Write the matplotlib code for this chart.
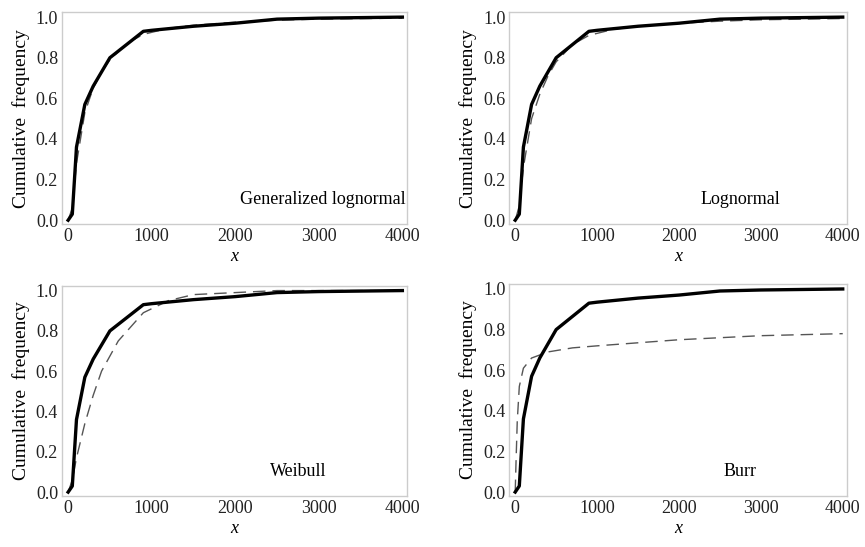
import numpy as np
import matplotlib.pyplot as plt

plt.rcParams['font.family'] = 'Liberation Serif'

# Frequência acumulada observada (mesma para todos os painéis)
x_obs = [0, 50, 100, 200, 300, 500, 900, 1000, 1500, 2000, 2500, 3000, 4000]
F_obs = [0, 0.03, 0.36, 0.57, 0.66, 0.80, 0.93, 0.935, 0.955, 0.97, 0.99, 0.995, 1.0]

# Curvas ajustadas
x_gln = [0, 50, 100, 200, 300, 400, 500, 700, 900, 1200, 1500, 2000, 2500, 3000, 4000]
F_gln = [0, 0.06, 0.28, 0.53, 0.65, 0.73, 0.79, 0.87, 0.915, 0.945, 0.96, 0.975, 0.985, 0.99, 0.995]

x_ln = [0, 50, 100, 200, 300, 400, 500, 700, 900, 1200, 1500, 2000, 2500, 3000, 4000]
F_ln = [0, 0.07, 0.26, 0.50, 0.62, 0.71, 0.78, 0.865, 0.91, 0.94, 0.955, 0.97, 0.98, 0.987, 0.993]

x_wb = [0, 50, 100, 200, 300, 400, 600, 900, 1200, 1500, 2000, 2500, 4000]
F_wb = [0, 0.06, 0.17, 0.34, 0.48, 0.60, 0.75, 0.89, 0.95, 0.98, 0.99, 1.0, 1.0]

x_burr = [0, 10, 25, 50, 100, 200, 400, 700, 1000, 1500, 2000, 2500, 3000, 3500, 4000]
F_burr = [0, 0.15, 0.35, 0.52, 0.61, 0.66, 0.69, 0.71, 0.72, 0.735, 0.75, 0.76, 0.77, 0.775, 0.78]

paineis = [
    ('Generalized lognormal', x_gln, F_gln, [0.072, 0.590, 0.398, 0.388]),
    ('Lognormal', x_ln, F_ln, [0.589, 0.590, 0.390, 0.388]),
    ('Weibull', x_wb, F_wb, [0.072, 0.093, 0.398, 0.385]),
    ('Burr', x_burr, F_burr, [0.589, 0.093, 0.390, 0.388]),
]

fig = plt.figure(figsize=(8.65, 5.47), dpi=100, facecolor='white')

for nome, xf, Ff, pos in paineis:
    ax = fig.add_axes(pos)
    ax.plot(xf, Ff, color='#555555', lw=1.0, ls=(0, (9, 5)))
    ax.plot(x_obs, F_obs, color='black', lw=2.4)
    ax.set_xlim(-70, 4050)
    ax.set_ylim(-0.02, 1.025)
    ax.set_xticks([0, 1000, 2000, 3000, 4000])
    ax.set_yticks([0.0, 0.2, 0.4, 0.6, 0.8, 1.0])
    ax.set_yticklabels(['0.0', '0.2', '0.4', '0.6', '0.8', '1.0'])
    ax.tick_params(length=0, labelsize=13, colors='#222222', pad=3)
    for s in ax.spines.values():
        s.set_color('#cccccc')
        s.set_linewidth(1.0)
    ax.set_xlabel('x', fontsize=13, style='italic', labelpad=2)
    ax.set_ylabel('Cumulative  frequency', fontsize=14, labelpad=4)
    if nome == 'Generalized lognormal':
        ax.text(4040, 0.1, nome, fontsize=13, ha='right', va='center')
    else:
        ax.text(2750, 0.1, nome, fontsize=13, ha='center', va='center')

fig.savefig('out.png', dpi=100, facecolor='white')
